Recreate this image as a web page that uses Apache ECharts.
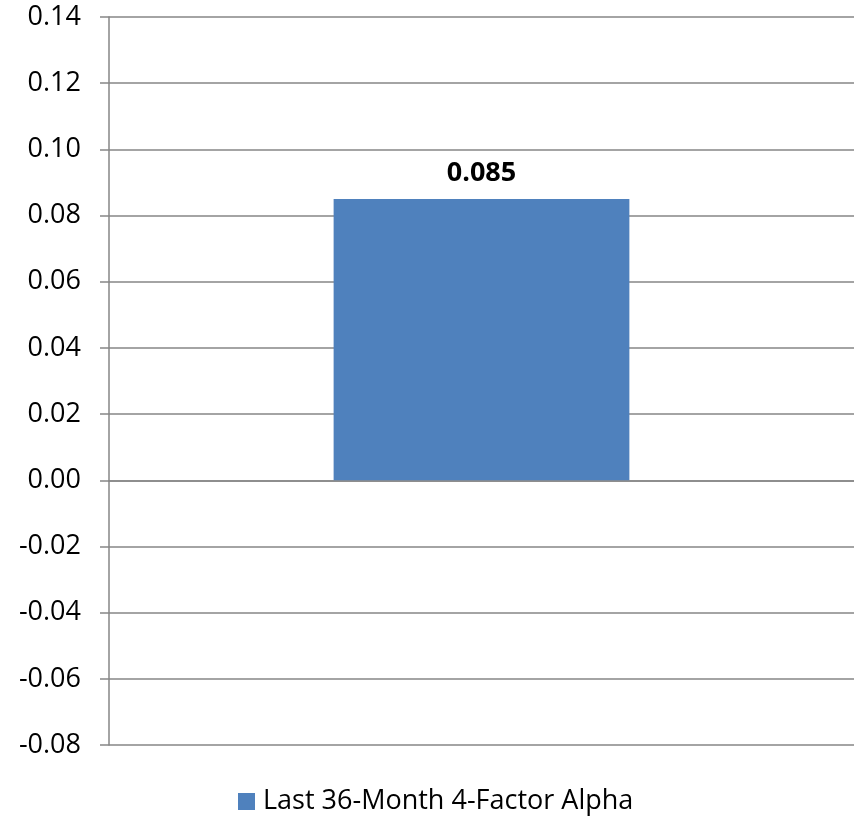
<!DOCTYPE html>
<html><head><meta charset="utf-8">
<script src="https://cdn.jsdelivr.net/npm/echarts@6/dist/echarts.min.js"></script>
<style>html,body{margin:0;padding:0;background:#fff}#c{width:854px;height:820px}</style>
</head><body><div id="c"></div>
<script>
const categories = ['Alpha'];
const seriesName = 'Last 36-Month 4-Factor Alpha';
const values = [0.085];
const yMin = -0.08, yMax = 0.14, yStep = 0.02;

const chart = echarts.init(document.getElementById('c'));
const font = '"Open Sans", "Liberation Sans", sans-serif';
chart.setOption({
  animation: false,
  grid: {left: 109, right: 0, top: 17, bottom: 75},
  legend: {
    bottom: 0, left: 233, itemWidth: 17, itemHeight: 17, itemGap: 8,
    textStyle: {fontFamily: font, fontSize: 27, color: '#000', padding: [0, 0, 0, 3]},
    data: [{name: seriesName, icon: 'rect'}]
  },
  xAxis: {
    type: 'category', data: categories,
    axisLine: {onZero: true, lineStyle: {color: '#868686', width: 1.5}},
    axisTick: {show: false}, axisLabel: {show: false}
  },
  yAxis: {
    type: 'value', min: yMin, max: yMax, interval: yStep,
    axisLine: {show: true, lineStyle: {color: '#868686', width: 1.5}},
    axisTick: {show: true, length: 9, lineStyle: {color: '#868686', width: 1.5}},
    splitLine: {lineStyle: {color: '#868686', width: 1.5}},
    axisLabel: {fontFamily: font, fontSize: 27, color: '#000', margin: 28,
      formatter: v => v.toFixed(2)}
  },
  series: [{
    name: seriesName, type: 'bar', data: values, barWidth: '39.7%',
    itemStyle: {color: '#4F81BD'},
    label: {show: true, position: 'top', distance: 12, fontFamily: font, fontSize: 27,
      fontWeight: 'bold', color: '#000', formatter: p => p.value.toFixed(3)}
  }]
});
</script></body></html>
